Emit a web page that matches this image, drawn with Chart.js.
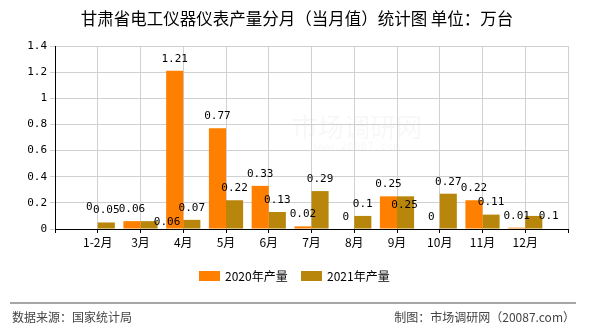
<!DOCTYPE html>
<html>
<head>
<meta charset="utf-8">
<script src="https://cdn.jsdelivr.net/npm/chart.js@4"></script>
<style>
  html, body { margin: 0; padding: 0; background: #fff; }
  #wrap { width: 590px; height: 330px; position: relative; }
</style>
</head>
<body>
<div id="wrap"><canvas id="bar"></canvas></div>
<script>
const categories = ['1-2月', '3月', '4月', '5月', '6月', '7月', '8月', '9月', '10月', '11月', '12月'];
const output2020 = [0, 0.06, 1.21, 0.77, 0.33, 0.02, 0, 0.25, 0, 0.22, 0.01];
const output2021 = [0.05, 0.06, 0.07, 0.22, 0.13, 0.29, 0.1, 0.25, 0.27, 0.11, 0.1];
const seriesNames = ['2020年产量', '2021年产量'];
const seriesColors = ['#FF8000', '#B8860B'];
const yTicks = [0, 0.2, 0.4, 0.6, 0.8, 1, 1.2, 1.4];

const titleText = '甘肃省电工仪器仪表产量分月（当月值）统计图 单位：万台';
const sourceText = '数据来源：国家统计局';
const makerText = '制图：市场调研网（20087.com）';

// the original moves a few value labels so they don't collide
const labelNudge = {
  '0:0': [0, -10],
  '1:1': [18, 13],
  '1:7': [-1, 21],
  '1:10': [15, 12]
};

const cjk = '"Noto Sans CJK SC", "Noto Sans", sans-serif';
const mono = '"DejaVu Sans Mono", "Liberation Mono", monospace';

// empty slot on both ends, like the reference axis
const labels = [''].concat(categories, ['']);
const pad = arr => [null].concat(arr, [null]);

const decor = {
  id: 'decor',
  beforeDraw(chart) {
    const c = chart.ctx;
    c.save();
    // faint watermark
    c.fillStyle = 'rgba(0,0,0,0.03)';
    c.font = '26px ' + cjk;
    c.textAlign = 'center';
    c.textBaseline = 'middle';
    c.fillText('市场调研网', 357, 127);
    c.font = '11px ' + mono;
    c.fillText('www.20087.com', 357, 147);
    c.restore();
  },
  afterDraw(chart) {
    const c = chart.ctx;
    c.save();
    // title
    c.fillStyle = '#000';
    c.font = '16.5px ' + cjk;
    c.textAlign = 'center';
    c.textBaseline = 'middle';
    c.fillText(titleText, 297, 19);

    // legend
    c.font = '12px ' + cjk;
    c.textAlign = 'left';
    let x = 199;
    seriesNames.forEach((name, i) => {
      c.fillStyle = seriesColors[i];
      c.fillRect(x, 271, 21, 10);
      c.fillStyle = '#000';
      c.fillText(name, x + 26, 276);
      x += 102;
    });

    // footer
    c.strokeStyle = '#888';
    c.lineWidth = 1.5;
    c.beginPath();
    c.moveTo(10, 303);
    c.lineTo(576, 303);
    c.stroke();
    c.fillStyle = '#444';
    c.font = '12px ' + cjk;
    c.textAlign = 'left';
    c.fillText(sourceText, 12, 317);
    c.textAlign = 'right';
    c.fillText(makerText, 575, 317);

    // value labels
    c.fillStyle = '#000';
    c.font = '11px ' + mono;
    c.textAlign = 'center';
    chart.data.datasets.forEach((ds, di) => {
      chart.getDatasetMeta(di).data.forEach((bar, idx) => {
        const v = ds.data[idx];
        if (v === null || v === undefined) return;
        const n = labelNudge[di + ':' + (idx - 1)] || [0, 0];
        c.fillText(String(v), bar.x + n[0], bar.y - 12 + n[1]);
      });
    });
    c.restore();
  }
};

const ctx = document.getElementById('bar');

new Chart(ctx, {
  type: 'bar',
  data: {
    labels: labels,
    datasets: [
      { label: seriesNames[0], data: pad(output2020), backgroundColor: seriesColors[0] },
      { label: seriesNames[1], data: pad(output2021), backgroundColor: seriesColors[1] }
    ]
  },
  options: {
    responsive: true,
    maintainAspectRatio: false,
    animation: false,
    devicePixelRatio: 1,
    categoryPercentage: 0.8,
    barPercentage: 1,
    layout: { padding: { top: 46, right: 22, bottom: 81, left: 0 } },
    plugins: {
      legend: { display: false },
      title: { display: false },
      tooltip: { enabled: false }
    },
    scales: {
      x: {
        offset: false,
        afterFit(scale) { scale.height = 20; },
        grid: {
          color: '#d0d0d0',
          tickColor: '#000',
          tickLength: 4,
          offset: false
        },
        border: { color: '#000', width: 1 },
        ticks: {
          autoSkip: false,
          maxRotation: 0,
          padding: 2,
          color: '#000',
          font: { family: cjk, size: 12 }
        }
      },
      y: {
        min: 0,
        max: 1.4,
        afterFit(scale) { scale.width = 55; },
        afterBuildTicks(scale) { scale.ticks = yTicks.map(v => ({ value: v })); },
        grid: { color: '#d0d0d0', tickColor: '#d0d0d0', tickLength: 5 },
        border: { color: '#000', width: 1 },
        ticks: {
          padding: 3,
          color: '#000',
          font: { family: mono, size: 11 },
          callback: v => String(Math.round(v * 10) / 10)
        }
      }
    }
  },
  plugins: [decor]
});
</script>
</body>
</html>
